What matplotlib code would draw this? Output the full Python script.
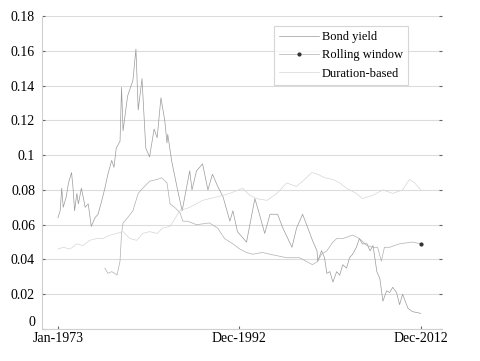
import numpy as np
import matplotlib
matplotlib.use('Agg')
import matplotlib.pyplot as plt

# Datos (x = meses desde Jan-1973)
bond_m = [0, 3, 5, 7, 11, 14, 18, 20, 22, 25, 27, 31, 36, 40, 44, 49, 53, 58, 62, 66,
          71, 74, 77, 82, 84, 86, 92, 99, 103, 106, 111, 116, 121, 127, 131, 136, 141,
          144, 145, 150, 158, 164, 174, 177, 183, 191, 198, 204, 211, 218, 227, 231,
          237, 249, 260, 266, 273, 280, 290, 297, 309, 315, 323, 330, 336, 342, 343,
          348, 352, 355, 359, 363, 368, 372, 376, 381, 385, 389, 394, 398, 402, 408,
          412, 416, 421, 425, 429, 434, 438, 442, 447, 451, 455, 462, 468, 479]
bond_v = [0.064, 0.068, 0.081, 0.070, 0.076, 0.084, 0.090, 0.081, 0.068, 0.078, 0.072,
          0.081, 0.070, 0.072, 0.059, 0.064, 0.066, 0.074, 0.081, 0.089, 0.097, 0.093,
          0.104, 0.108, 0.139, 0.114, 0.134, 0.143, 0.161, 0.126, 0.144, 0.104, 0.099,
          0.115, 0.110, 0.133, 0.120, 0.107, 0.112, 0.097, 0.080, 0.068, 0.091, 0.080,
          0.091, 0.095, 0.080, 0.089, 0.082, 0.076, 0.062, 0.068, 0.056, 0.050, 0.075,
          0.066, 0.055, 0.066, 0.066, 0.058, 0.047, 0.058, 0.066, 0.058, 0.051, 0.045,
          0.039, 0.045, 0.041, 0.032, 0.033, 0.027, 0.033, 0.031, 0.037, 0.035, 0.041,
          0.043, 0.047, 0.052, 0.049, 0.049, 0.045, 0.048, 0.033, 0.029, 0.016, 0.022,
          0.021, 0.024, 0.021, 0.014, 0.020, 0.012, 0.010, 0.009]

roll_m = [62, 66, 71, 75, 78, 82, 84, 86, 92, 99, 106, 112, 121, 131, 137, 144, 148,
          154, 161, 165, 171, 183, 200, 211, 220, 231, 240, 249, 257, 270, 280, 302,
          319, 336, 343, 348, 355, 363, 368, 376, 389, 398, 408, 416, 422, 427, 431,
          438, 451, 468, 479]
roll_v = [0.035, 0.032, 0.033, 0.032, 0.031, 0.039, 0.055, 0.061, 0.064, 0.068, 0.078,
          0.081, 0.085, 0.086, 0.087, 0.084, 0.072, 0.070, 0.067, 0.062, 0.062, 0.060,
          0.061, 0.058, 0.052, 0.049, 0.046, 0.044, 0.043, 0.044, 0.043, 0.041, 0.041,
          0.037, 0.039, 0.043, 0.045, 0.050, 0.052, 0.052, 0.054, 0.052, 0.048, 0.047,
          0.047, 0.039, 0.047, 0.047, 0.049, 0.050, 0.049]

dur_m = [0, 7, 16, 25, 33, 42, 51, 59, 69, 78, 86, 95, 104, 112, 121, 131, 138, 148,
         161, 174, 191, 210, 227, 244, 253, 262, 276, 289, 302, 315, 328, 335, 343,
         352, 363, 372, 381, 394, 402, 416, 429, 442, 455, 464, 471, 479]
dur_v = [0.046, 0.047, 0.046, 0.049, 0.048, 0.051, 0.052, 0.052, 0.054, 0.055, 0.056,
         0.052, 0.051, 0.055, 0.056, 0.055, 0.058, 0.059, 0.068, 0.070, 0.074, 0.076,
         0.078, 0.081, 0.077, 0.075, 0.074, 0.078, 0.084, 0.082, 0.087, 0.090, 0.089,
         0.087, 0.086, 0.084, 0.081, 0.078, 0.075, 0.077, 0.080, 0.078, 0.080, 0.086,
         0.084, 0.080]

xt = [0, 239, 479]
xt_lab = ['Jan-1973', 'Dec-1992', 'Dec-2012']
yt = [0, 0.02, 0.04, 0.06, 0.08, 0.1, 0.12, 0.14, 0.16, 0.18]
yt_lab = ['0', '0.02', '0.04', '0.06', '0.08', '0.1', '0.12', '0.14', '0.16', '0.18']

plt.rcParams['font.family'] = ['Liberation Serif', 'DejaVu Serif']

fig = plt.figure(figsize=(4.8, 3.61), dpi=100)
ax = fig.add_axes([0.0875, 0.0886, 0.8333, 0.867])

ax.plot(bond_m, bond_v, color='#9a9a9a', lw=0.5, label='Bond yield')
ax.plot(roll_m, roll_v, color='#b0b0b0', lw=0.5, marker='.', markersize=4,
        markevery=[len(roll_m) - 1], markerfacecolor='#333333',
        markeredgecolor='#333333', label='Rolling window')
ax.plot(dur_m, dur_v, color='#d6d6d6', lw=0.5, label='Duration-based')

ax.set_xlim(-21, 507)
ax.set_ylim(0, 0.18)
ax.set_xticks(xt)
ax.set_xticklabels(xt_lab, fontsize=10)
ax.set_yticks(yt)
ax.set_yticklabels(yt_lab, fontsize=10)
# el "0" queda un poco por encima, como en el original
ax.get_yticklabels()[0].set_verticalalignment('bottom')

# Solo rejilla horizontal
ax.yaxis.grid(True, color='#dcdcdc', lw=0.8)
ax.set_axisbelow(True)
for s in ['top', 'right']:
    ax.spines[s].set_visible(False)
for s in ['left', 'bottom']:
    ax.spines[s].set_color('#d0d0d0')
    ax.spines[s].set_linewidth(0.8)
ax.tick_params(direction='in', length=2, color='#666666', right=True)
ax.tick_params(axis='y', pad=5)
ax.tick_params(axis='x', pad=2)

leg = ax.legend(loc='upper right', bbox_to_anchor=(0.915, 0.968), fontsize=9,
                handlelength=3.2, frameon=True, fancybox=False, borderpad=0.4,
                labelspacing=0.5, handletextpad=0.2, borderaxespad=0)
leg.get_frame().set_edgecolor('#cccccc')
leg.get_frame().set_linewidth(0.8)

fig.savefig('out.png', dpi=100)
